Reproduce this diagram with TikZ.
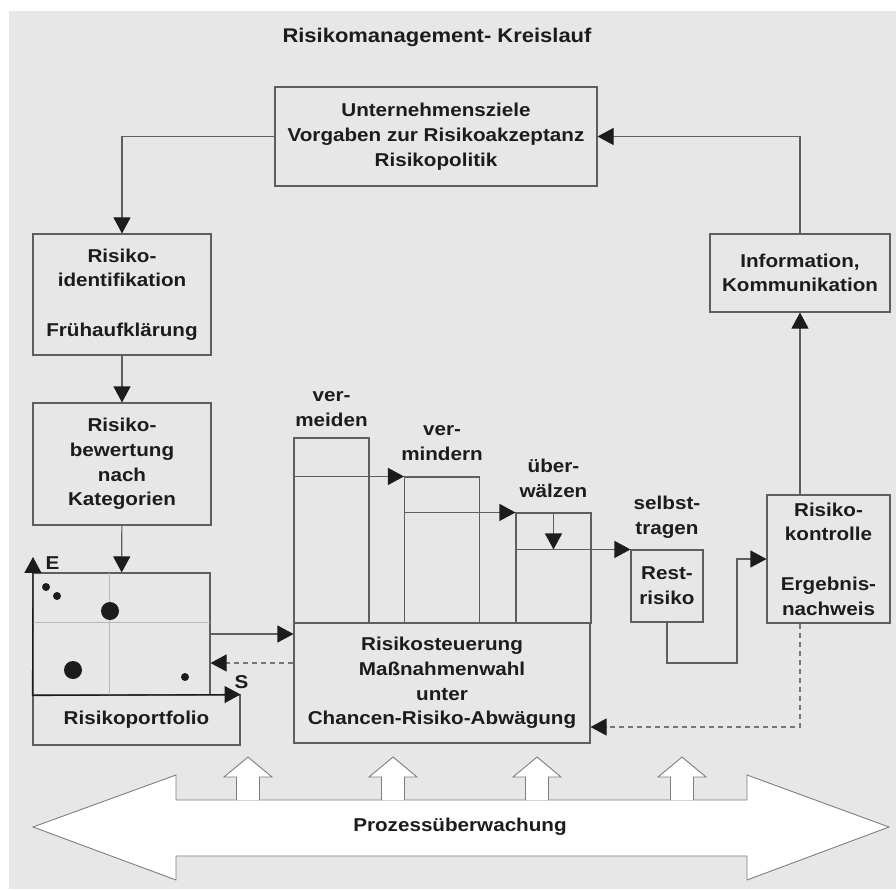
\documentclass[tikz,border=0pt]{standalone}
\usepackage{fontspec}
\setmainfont{Liberation Sans}[FakeStretch=1.11]
\usetikzlibrary{arrows.meta, positioning, calc}

\definecolor{bg}{HTML}{E7E7E7}
\definecolor{rim}{HTML}{5E5E5E}
\definecolor{ink}{HTML}{1C1C1C}

\tikzset{
  txt/.style={font=\bfseries\fontsize{18.6}{24.7}\selectfont, text=ink, align=center, inner sep=0pt},
  box/.style={txt, draw=rim, line width=1.1pt, rectangle},
  col/.style={draw=rim, line width=1.1pt, inner sep=0pt, minimum width=75pt},
  flow/.style={draw=rim, line width=1.1pt, -{Triangle[length=16pt, width=17pt, color=ink]}},
  loose/.style={draw=rim!85, dash pattern=on 5pt off 4pt},
  fat/.style={draw=rim!80, fill=white, line width=0.9pt},
}

\begin{document}
\begin{tikzpicture}[x=1pt, y=-1pt]
  \useasboundingbox (0,0) rectangle (896,890);
  \fill[white] (0,0) rectangle (896,890);
  \fill[bg] (9,11) rectangle (896,889);

  \node[txt, font=\bfseries\fontsize{19.8}{24}\selectfont] (title) at (437,37) {Risikomanagement- Kreislauf};

  % Ziele oben
  \node[box, minimum width=322pt, minimum height=99pt] (ziele) at (436,136.5)
    {Unternehmensziele\\Vorgaben zur Risikoakzeptanz\\Risikopolitik};

  % linke Spalte
  \node[box, minimum width=178pt, minimum height=121pt] (ident) at (122,294.5)
    {Risiko-\\identifikation\\[24.7pt]Frühaufklärung};
  \node[box, minimum width=178pt, minimum height=122pt] (bewert) at (122,464)
    {Risiko-\\bewertung\\nach\\Kategorien};

  % Portfolio
  \node[box, minimum width=207pt, minimum height=50pt] (portf) at (136.5,720) {Risikoportfolio};
  \node[draw=rim, line width=1.1pt, inner sep=0pt, minimum width=177pt, minimum height=122pt] (grid) at (121.5,634) {};
  \draw[gray!55, line width=1pt] (109,573) -- (109,695) (33,622) -- (210,622);

  \fill[ink] (46,587) circle [radius=4pt];
  \fill[ink] (57,596) circle [radius=4pt];
  \fill[ink] (110,611) circle [radius=9pt];
  \fill[ink] (73,670) circle [radius=9pt];
  \fill[ink] (185,677) circle [radius=4pt];

  \begin{scope}[ink, line width=1.1pt, -{Triangle[length=16pt, width=17pt]}]
    \draw (grid.south west) -- (33,557);
    \draw (grid.south west) -- (portf.north east);
  \end{scope}
  \node[txt] (lblE) at (52.5,563) {E};
  \node[txt] (lblS) at (241.5,682) {S};

  % Massnahmen
  \node[col, minimum height=185pt] (vermeid) at (331.5,530.5) {};
  \node[col, minimum height=146pt] (vermind) at (442,550) {};
  \node[col, minimum height=110pt] (ueberw) at (553.5,568) {};
  \node[txt, above=11pt of vermeid] (lblVermeid) {ver-\\meiden};
  \node[txt, above=16pt of vermind] (lblVermind) {ver-\\mindern};
  \node[txt, above=15pt of ueberw] (lblUeberw) {über-\\wälzen};

  \node[box, fill=bg, minimum width=296pt, minimum height=120pt] (steuer) at (442,683)
    {Risikosteuerung\\Maßnahmenwahl\\unter\\Chancen-Risiko-Abwägung};

  \node[box, minimum width=72pt, minimum height=72pt] (rest) at (667,586) {Rest-\\risiko};
  \node[txt, above=11pt of rest] (lblSelbst) {selbst-\\tragen};

  % rechte Spalte
  \node[box, minimum width=123pt, minimum height=128pt] (kontr) at (828.5,559)
    {Risiko-\\kontrolle\\[24.7pt]Ergebnis-\\nachweis};
  \node[box, minimum width=180pt, minimum height=78pt] (info) at (800,273)
    {Information,\\Kommunikation};

  % Kreislauf
  \draw[flow] (ziele.west) -| (ident.north);
  \draw[flow] (ident) -- (bewert);
  \draw[flow] (bewert) -- (grid);
  \draw[flow] (grid.east) -- (grid.east -| steuer.west);

  \draw[flow] (vermeid.west |- vermind.north) -- (vermind.north west);
  \draw[flow] (vermind.west |- ueberw.north) -- (ueberw.north west);
  \draw[flow] (ueberw.north) -- (ueberw.north |- rest.north);
  \draw[flow] (ueberw.west |- rest.north) -- (rest.north west);

  \coordinate (bendR) at (737,663);
  \draw[flow] (rest.south) |- (bendR) |- (kontr.west);
  \draw[flow] (kontr.north -| info.south) -- (info.south);
  \draw[flow] (info.north) |- (ziele.east);

  \coordinate (dashL) at (0,663);
  \coordinate (dashR) at (0,727);
  \draw[flow, loose] (steuer.west |- dashL) -- (grid.east |- dashL);
  \draw[flow, loose] (kontr.south -| info.south) |- (steuer.east |- dashR);

  % Prozessueberwachung
  \filldraw[fat] (33,827) -- (176,775) -- (176,800) -- (747,800) -- (747,775) -- (889,827)
    -- (747,880) -- (747,856) -- (176,856) -- (176,880) -- cycle;
  \foreach \cx in {248,393,537,682} {
    \filldraw[fat] (\cx-11.5,800) -- (\cx-11.5,777) -- (\cx-24,777) -- (\cx,757)
      -- (\cx+24,777) -- (\cx+11.5,777) -- (\cx+11.5,800);
  }
  \node[txt] (proz) at (460,827) {Prozessüberwachung};
\end{tikzpicture}
\end{document}
